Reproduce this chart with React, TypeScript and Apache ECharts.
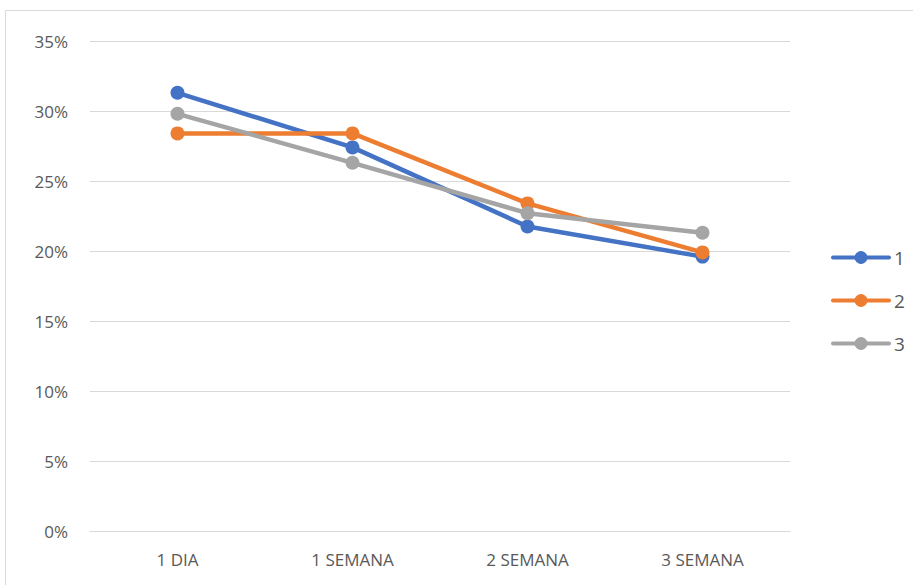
import React, { useEffect, useRef } from "react";
import * as echarts from "echarts";

const categories = ["1 DIA", "1 SEMANA", "2 SEMANA", "3 SEMANA"];
const series1 = [0.313, 0.274, 0.2175, 0.196];
const series2 = [0.284, 0.284, 0.234, 0.199];
const series3 = [0.298, 0.263, 0.227, 0.213];
const seriesNames = ["1", "2", "3"];
const colors = ["#4472C4", "#ED7D31", "#A5A5A5"];

export default function App() {
  const ref = useRef<HTMLDivElement>(null);
  useEffect(() => {
    if (!ref.current) return;
    const chart = echarts.init(ref.current, null, { renderer: "svg" });
    const font = "'Open Sans', 'Liberation Sans', sans-serif";
    const data = [series1, series2, series3];
    chart.setOption({
      animation: false,
      textStyle: { fontFamily: font },
      graphic: [
        {
          type: "rect",
          shape: { x: 5.5, y: 10.5, width: 920, height: 600 },
          style: { fill: "none", stroke: "#D9D9D9", lineWidth: 1 },
          silent: true,
        },
      ],
      grid: { left: 90, right: 123, top: 41, bottom: 54 },
      xAxis: {
        type: "category",
        data: categories,
        axisLine: { lineStyle: { color: "#D9D9D9" } },
        axisTick: { show: false },
        axisLabel: { color: "#595959", fontSize: 17, margin: 20, fontFamily: font },
      },
      yAxis: {
        type: "value",
        min: 0,
        max: 0.35,
        interval: 0.05,
        axisLine: { show: false },
        axisTick: { show: false },
        splitLine: { lineStyle: { color: "#D9D9D9", width: 1 } },
        axisLabel: {
          color: "#595959",
          fontSize: 17,
          margin: 22,
          fontFamily: font,
          formatter: (v: number) => Math.round(v * 100) + "%",
        },
      },
      legend: {
        orient: "vertical",
        left: 826,
        top: 243,
        itemWidth: 56,
        itemHeight: 16,
        itemGap: 24,
        lineStyle: { width: 4, cap: "round" },
        textStyle: { color: "#595959", fontSize: 19, fontFamily: font, padding: [0, 0, 0, 0] },
        data: seriesNames,
      },
      series: data.map((d, i) => ({
        name: seriesNames[i],
        type: "line",
        data: d,
        symbol: "circle",
        symbolSize: 14,
        color: colors[i],
        lineStyle: { width: 4.5, color: colors[i], cap: "round" },
        itemStyle: { color: colors[i] },
      })),
    });
    return () => chart.dispose();
  }, []);
  return (
    <div
      ref={ref}
      style={{ position: "fixed", left: 0, top: 0, width: 913, height: 585, background: "#fff" }}
    />
  );
}
